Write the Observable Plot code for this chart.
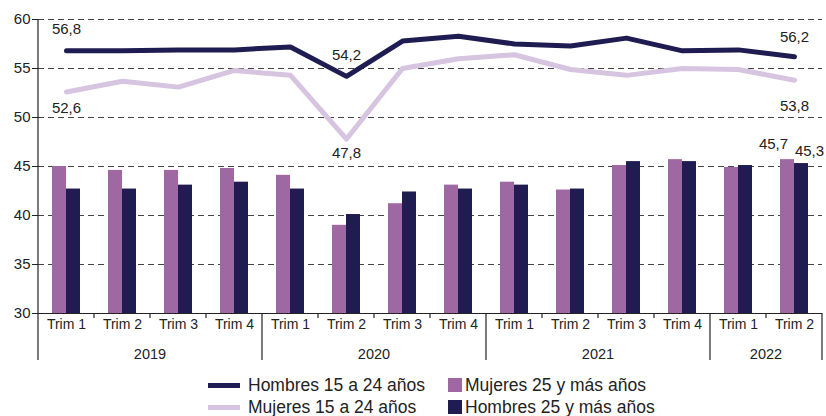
<!DOCTYPE html>
<html>
<head>
<meta charset="utf-8">
<script src="https://cdn.jsdelivr.net/npm/d3@7"></script>
<script src="https://cdn.jsdelivr.net/npm/@observablehq/plot@0.6"></script>
<style>
  body { margin: 0; background: #fff; font-family: "Liberation Sans", Arial, sans-serif; }
  #legend { position: relative; width: 826px; height: 46px; font-size: 17.5px; color: #222; }
  .item { position: absolute; display: flex; align-items: center; white-space: nowrap; }
</style>
</head>
<body>
<div id="chart"></div>
<div id="legend"></div>
<script>
// ---- data ----
const years = ["2019", "2020", "2021", "2022"];
const quartersPerYear = [4, 4, 4, 2];
const quarterLabels = ["Trim 1", "Trim 2", "Trim 3", "Trim 4"];
const hombres1524 = [56.8, 56.8, 56.9, 56.9, 57.2, 54.2, 57.8, 58.3, 57.5, 57.3, 58.1, 56.8, 56.9, 56.2];
const mujeres1524 = [52.6, 53.7, 53.1, 54.8, 54.3, 47.8, 55.0, 56.0, 56.4, 54.9, 54.3, 55.0, 54.9, 53.8];
const mujeres25 = [45.0, 44.6, 44.6, 44.8, 44.1, 39.0, 41.2, 43.1, 43.4, 42.6, 45.1, 45.7, 44.9, 45.7];
const hombres25 = [42.7, 42.7, 43.1, 43.4, 42.7, 40.1, 42.4, 42.7, 43.1, 42.7, 45.5, 45.5, 45.1, 45.3];
const yTicks = [30, 35, 40, 45, 50, 55, 60];
const seriesNames = ["Hombres 15 a 24 años", "Mujeres 15 a 24 años", "Mujeres 25 y más años", "Hombres 25 y más años"];

// ---- styles ----
const NAVY = "#1f1c52";
const LAV = "#d6c4e0";
const PURPLE = "#a068a3";
const TEXT = "#222";

// ---- table ----
const periods = [];
years.forEach((y, i) => {
  for (let q = 0; q < quartersPerYear[i]; q++) periods.push({ year: y, label: quarterLabels[q], key: y + "-" + (q + 1) });
});
const rows = periods.map((p, i) => ({ ...p, h1524: hombres1524[i], m1524: mujeres1524[i], m25: mujeres25[i], h25: hombres25[i] }));
const keys = rows.map(d => d.key);
const labelOf = Object.fromEntries(rows.map(d => [d.key, d.label]));
const yMin = yTicks[0];
const fmt = v => v.toFixed(1).replace(".", ",");
const last = rows[rows.length - 1];

const W = 826, H = 370;
const plot = Plot.plot({
  width: W, height: H,
  marginLeft: 38, marginRight: 4, marginTop: 19, marginBottom: 57,
  style: { fontFamily: "Liberation Sans, Arial, sans-serif", fontSize: "14px", color: TEXT, background: "#fff" },
  x: { domain: keys, paddingInner: 0.75, paddingOuter: 0.375, label: null },
  y: { domain: [yTicks[0], yTicks[yTicks.length - 1]], label: null },
  marks: [
    Plot.ruleY(yTicks.slice(1), { stroke: "#444", strokeDasharray: "6,4", strokeWidth: 1 }),
    Plot.barY(rows, { x: "key", y1: yMin, y2: "m25", fill: PURPLE, dx: -7 }),
    Plot.barY(rows, { x: "key", y1: yMin, y2: "h25", fill: NAVY, dx: 7 }),
    Plot.ruleY([yMin], { stroke: TEXT, strokeWidth: 1.2 }),
    Plot.line(rows, { x: "key", y: "m1524", stroke: LAV, strokeWidth: 5 }),
    Plot.line(rows, { x: "key", y: "h1524", stroke: NAVY, strokeWidth: 5 }),
    Plot.axisY({ ticks: yTicks, tickSize: 6, tickPadding: 2, fontSize: 15, label: null, tickFormat: d => d }),
    Plot.axisX({ tickSize: 0, tickPadding: 6, tickFormat: k => labelOf[k], fontSize: 14, label: null }),
    // value labels
    Plot.text([rows[0]], { x: "key", y: "h1524", text: d => fmt(d.h1524), dy: -22, fontSize: 15, fill: TEXT }),
    Plot.text([rows[0]], { x: "key", y: "m1524", text: d => fmt(d.m1524), dy: 16, fontSize: 15, fill: TEXT }),
    Plot.text([rows[5]], { x: "key", y: "h1524", text: d => fmt(d.h1524), dy: -21, fontSize: 15, fill: TEXT }),
    Plot.text([rows[5]], { x: "key", y: "m1524", text: d => fmt(d.m1524), dy: 14, fontSize: 15, fill: TEXT }),
    Plot.text([last], { x: "key", y: "h1524", text: d => fmt(d.h1524), dy: -20, fontSize: 15, fill: TEXT }),
    Plot.text([last], { x: "key", y: "m1524", text: d => fmt(d.m1524), dy: 26, fontSize: 15, fill: TEXT }),
    Plot.text([last], { x: "key", y: "m25", text: d => fmt(d.m25), dx: -21, dy: -15, fontSize: 15, fill: TEXT }),
    Plot.text([last], { x: "key", y: "h25", text: d => fmt(d.h25), dx: 15, dy: -12, fontSize: 15, fill: TEXT })
  ]
});

// ---- hierarchical x axis decorations, positioned with the plot's own scales ----
const xs = plot.scale("x");
const ys = plot.scale("y");
const step = xs.step, bw = xs.bandwidth;
const center = k => xs.apply(k) + bw / 2;
const svg = d3.select(plot);
const y0 = ys.apply(yMin);
const yTop = ys.apply(yTicks[yTicks.length - 1]);
const yEnd = H - 10;
const g = svg.append("g").attr("stroke", TEXT).attr("stroke-width", 1.2);
// y axis line
g.append("line").attr("x1", center(keys[0]) - step / 2).attr("x2", center(keys[0]) - step / 2).attr("y1", yTop).attr("y2", yEnd);
// quarter and year separators
let idx = 0;
years.forEach((y, i) => {
  const n = quartersPerYear[i];
  for (let q = 0; q < n; q++) {
    const k = keys[idx + q];
    const xb = center(k) - step / 2;
    if (idx + q === 0) continue;
    g.append("line").attr("x1", xb).attr("x2", xb).attr("y1", y0).attr("y2", q === 0 ? yEnd : y0 + 5);
  }
  const xc = (center(keys[idx]) + center(keys[idx + n - 1])) / 2;
  svg.append("text").attr("x", xc).attr("y", 355).attr("text-anchor", "middle").attr("dominant-baseline", "middle")
    .attr("font-size", 14.5).attr("fill", TEXT).attr("font-family", "Liberation Sans, Arial, sans-serif").text(y);
  idx += n;
});
const xr = center(keys[keys.length - 1]) + step / 2;
g.append("line").attr("x1", xr).attr("x2", xr).attr("y1", y0).attr("y2", yEnd);

document.getElementById("chart").appendChild(plot);

// ---- legend ----
const legend = d3.select("#legend");
const items = [
  { name: seriesNames[0], type: "line", color: NAVY, left: 208, top: 5 },
  { name: seriesNames[1], type: "line", color: LAV, left: 208, top: 27 },
  { name: seriesNames[2], type: "rect", color: PURPLE, left: 448, top: 5 },
  { name: seriesNames[3], type: "rect", color: NAVY, left: 448, top: 27 }
];
items.forEach(it => {
  const d = legend.append("div").attr("class", "item").style("left", it.left + "px").style("top", it.top + "px").style("height", "20px");
  if (it.type === "line") {
    d.append("span").style("display", "inline-block").style("width", "32px").style("height", "5px").style("background", it.color).style("margin-right", "8px");
  } else {
    d.append("span").style("display", "inline-block").style("width", "14px").style("height", "14px").style("background", it.color).style("margin-right", "3px");
  }
  d.append("span").text(it.name);
});
</script>
</body>
</html>
